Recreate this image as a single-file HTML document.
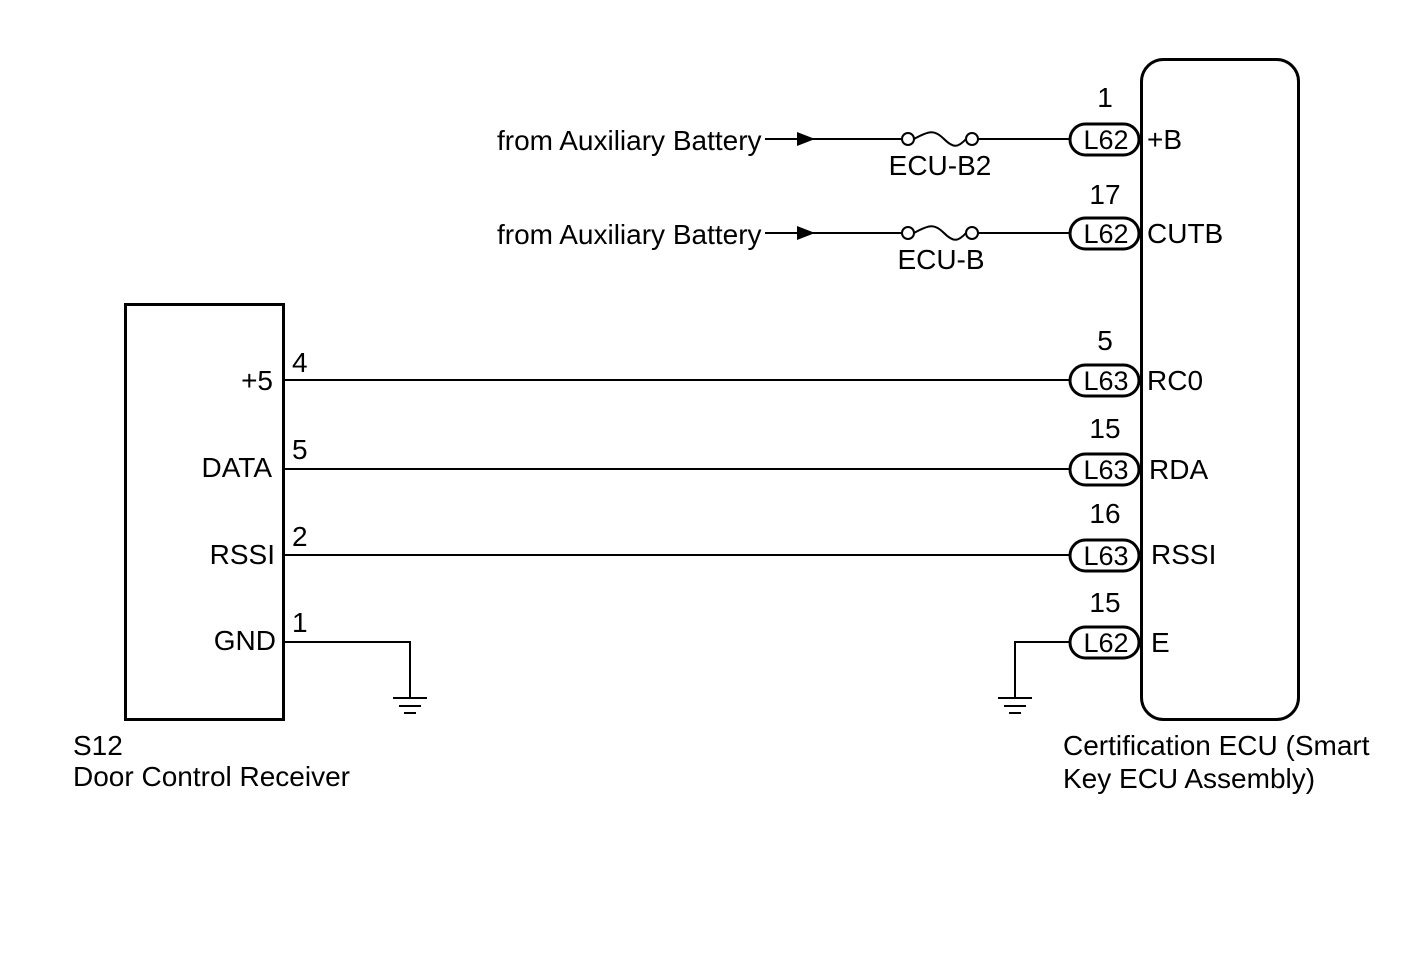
<!DOCTYPE html>
<html><head><style>
body{margin:0;background:#fff}
text{font-family:"Liberation Sans",Arial,sans-serif;font-size:28px;fill:#000}
</style></head><body>
<svg width="1424" height="959" viewBox="0 0 1424 959" xmlns="http://www.w3.org/2000/svg">
<g fill="none" stroke="#000">
<rect x="1141.5" y="59.5" width="157" height="660" rx="22" stroke-width="3"/>
<rect x="125.5" y="304.5" width="158" height="415" stroke-width="3"/>
<g stroke-width="2">
<line x1="765" y1="139" x2="902" y2="139"/><line x1="978" y1="139" x2="1070" y2="139"/>
<line x1="765" y1="233" x2="902" y2="233"/><line x1="978" y1="233" x2="1070" y2="233"/>
<path d="M914 139 C930 130 935 130 944 139 C953 148 958 148 966 139"/>
<path d="M914 233 C930 224 935 224 944 233 C953 242 958 242 966 233"/>
<circle cx="908" cy="139" r="6" fill="#fff"/><circle cx="972" cy="139" r="6" fill="#fff"/>
<circle cx="908" cy="233" r="6" fill="#fff"/><circle cx="972" cy="233" r="6" fill="#fff"/>
<line x1="284" y1="380" x2="1070" y2="380"/>
<line x1="284" y1="469" x2="1070" y2="469"/>
<line x1="284" y1="555" x2="1070" y2="555"/>
<polyline points="284,642 410,642 410,698"/>
<polyline points="1070,642 1015,642 1015,698"/>
<line x1="393" y1="698" x2="427" y2="698"/><line x1="399" y1="706" x2="421" y2="706"/><line x1="404" y1="713" x2="416" y2="713"/>
<line x1="998" y1="698" x2="1032" y2="698"/><line x1="1004" y1="706" x2="1026" y2="706"/><line x1="1009" y1="713" x2="1021" y2="713"/>
</g>
<g stroke-width="3" fill="#fff">
<rect x="1070" y="124" width="69" height="31" rx="15.5"/>
<rect x="1070" y="218" width="69" height="31" rx="15.5"/>
<rect x="1070" y="365" width="69" height="31" rx="15.5"/>
<rect x="1070" y="454" width="69" height="31" rx="15.5"/>
<rect x="1070" y="540" width="69" height="31" rx="15.5"/>
<rect x="1070" y="627" width="69" height="31" rx="15.5"/>
</g>
</g>
<polygon points="797,132 815,139 797,146" fill="#000"/>
<polygon points="797,226 815,233 797,240" fill="#000"/>
<g text-anchor="middle">
<text x="1106" y="149" style="font-size:27px">L62</text><text x="1106" y="243" style="font-size:27px">L62</text>
<text x="1106" y="390" style="font-size:27px">L63</text><text x="1106" y="479" style="font-size:27px">L63</text>
<text x="1106" y="565" style="font-size:27px">L63</text><text x="1106" y="652" style="font-size:27px">L62</text>
<text x="1105" y="107">1</text><text x="1105" y="204">17</text>
<text x="1105" y="350">5</text><text x="1105" y="438">15</text>
<text x="1105" y="523">16</text><text x="1105" y="612">15</text>
<text x="940" y="175">ECU-B2</text><text x="941" y="269">ECU-B</text>
</g>
<text x="1147" y="149">+B</text><text x="1147" y="243">CUTB</text>
<text x="1147" y="390">RC0</text><text x="1149" y="479">RDA</text>
<text x="1151" y="564">RSSI</text><text x="1151" y="652">E</text>
<text x="497" y="150">from Auxiliary Battery</text>
<text x="497" y="244">from Auxiliary Battery</text>
<g text-anchor="end">
<text x="273" y="390">+5</text><text x="272" y="477">DATA</text>
<text x="275" y="564">RSSI</text><text x="276" y="650">GND</text>
</g>
<text x="292" y="372">4</text><text x="292" y="459">5</text>
<text x="292" y="546">2</text><text x="292" y="632">1</text>
<text x="73" y="755">S12</text>
<text x="73" y="786">Door Control Receiver</text>
<text x="1063" y="755">Certification ECU (Smart</text>
<text x="1063" y="788">Key ECU Assembly)</text>
</svg>
</body></html>
